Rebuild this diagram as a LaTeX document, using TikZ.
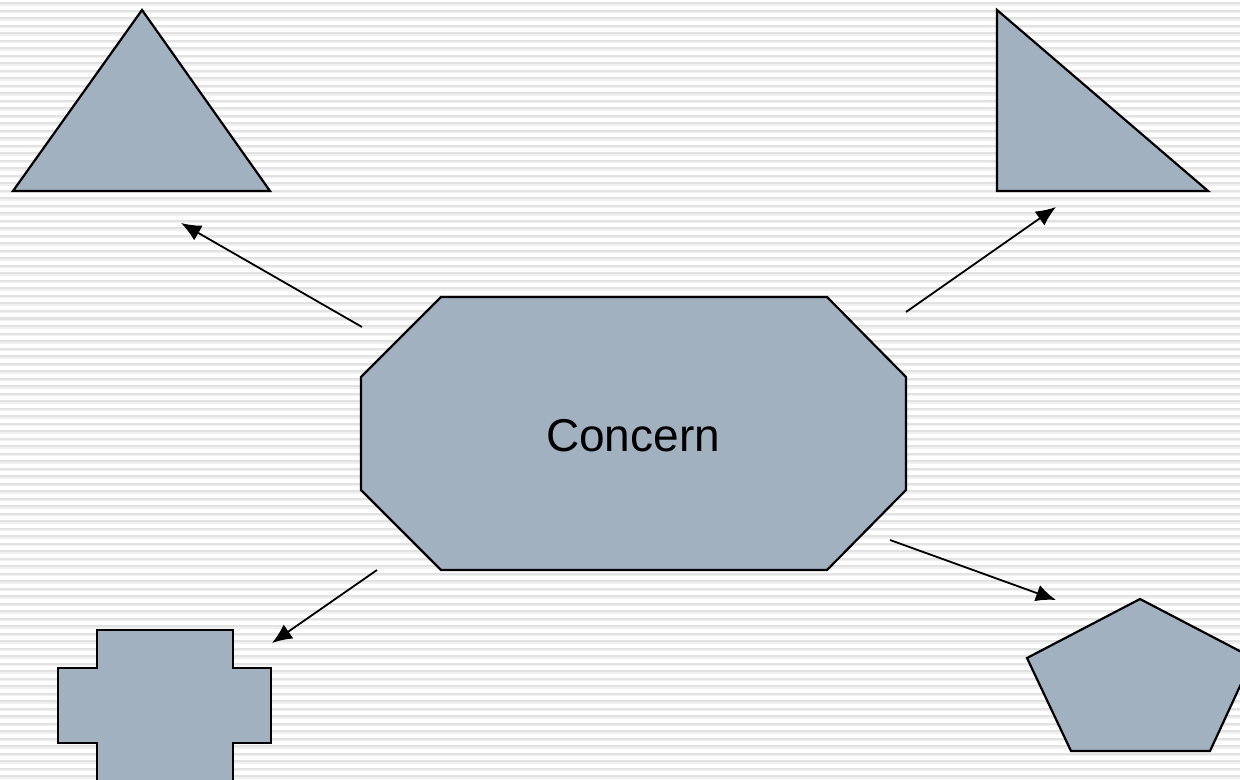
\documentclass[tikz,border=0pt]{standalone}
\usepackage{fontspec}
\setmainfont{Liberation Sans}
\usetikzlibrary{arrows.meta}
\definecolor{shapefill}{HTML}{A2B1C0}
\definecolor{stripedark}{HTML}{E2E2E2}
\definecolor{stripelight}{HTML}{F0F0F0}
\tikzset{
  figure/.style={draw=black, line width=1.1pt, fill=shapefill, line join=miter},
  link/.style={-{Latex[length=10pt,width=8.5pt]}, line width=0.9pt},
  label/.style={font=\fontsize{23}{28}\selectfont, text=black},
}
\begin{document}
\begin{tikzpicture}[x=0.5pt,y=-0.5pt]
\useasboundingbox (0,0) rectangle (1240,780);
\clip (0,0) rectangle (1240,780);
% striped background
\fill[white] (0,0) rectangle (1240,780);
\foreach \i in {0,...,104} {
  \fill[stripedark] (0,{\i*7.5+2.5}) rectangle (1240,{\i*7.5+4.5});
  \fill[stripelight] (0,{\i*7.5+4.5}) rectangle (1240,{\i*7.5+6});
}
% surrounding shapes
\draw[figure] (142,10) -- (270,191) -- (13,191) -- cycle;
\draw[figure] (997,10) -- (1208,191) -- (997,191) -- cycle;
\draw[figure] (97,630) -- (233,630) -- (233,668) -- (271,668) -- (271,743) -- (233,743)
  -- (233,800) -- (97,800) -- (97,743) -- (58,743) -- (58,668) -- (97,668) -- cycle;
\draw[figure] (1140,599) -- (1253,658) -- (1210,751) -- (1071,751) -- (1027,658) -- cycle;
% central octagon
\draw[figure] (441,297) -- (827,297) -- (906,377) -- (906,490) -- (827,570)
  -- (441,570) -- (361,490) -- (361,377) -- cycle;
\node[label] (concern) at (633,436) {Concern};
% arrow end points
\coordinate (tlS) at (362,327);
\coordinate (tlE) at (181,223);
\coordinate (trS) at (906,312);
\coordinate (trE) at (1056,207);
\coordinate (blS) at (377,570);
\coordinate (blE) at (272,643);
\coordinate (brS) at (890,540);
\coordinate (brE) at (1056,600);
\draw[link] (tlS) -- (tlE);
\draw[link] (trS) -- (trE);
\draw[link] (blS) -- (blE);
\draw[link] (brS) -- (brE);
\end{tikzpicture}
\end{document}
